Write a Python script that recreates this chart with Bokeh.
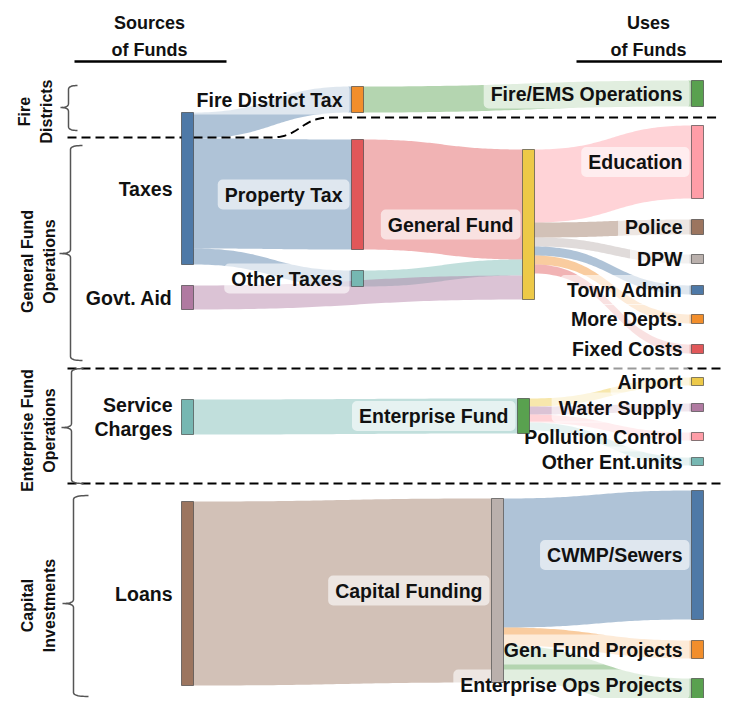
import numpy as np
from bokeh.plotting import figure
from bokeh.models import Range1d, ColumnDataSource
from bokeh.embed import file_html
from bokeh.resources import INLINE
from bokeh.core.properties import value

# ----------------------------- data -----------------------------
link_source = ["Taxes", "Taxes", "Taxes",
               "Fire District Tax", "Property Tax", "Other Taxes", "Govt. Aid",
               "General Fund", "General Fund", "General Fund", "General Fund", "General Fund", "General Fund",
               "Service Charges", "Enterprise Fund", "Enterprise Fund", "Enterprise Fund", "Enterprise Fund",
               "Loans", "Capital Funding", "Capital Funding", "Capital Funding"]
link_target = ["Fire District Tax", "Property Tax", "Other Taxes",
               "Fire/EMS Operations", "General Fund", "General Fund", "General Fund",
               "Education", "Police", "DPW", "Town Admin", "More Depts.", "Fixed Costs",
               "Enterprise Fund", "Airport", "Water Supply", "Pollution Control", "Other Ent.units",
               "Capital Funding", "CWMP/Sewers", "Gen. Fund Projects", "Enterprise Ops Projects"]
link_value = [26, 110, 16,
              26, 110, 16, 24,
              73, 15, 9, 9, 9, 9,
              35, 8, 8, 8, 8,
              184, 129, 18, 35]
# which end of the link gives its colour
link_color_end = ["src", "src", "src",
                  "tgt", "src", "src", "src",
                  "tgt", "tgt", "tgt", "tgt", "tgt", "tgt",
                  "src", "tgt", "tgt", "tgt", "tgt",
                  "src", "tgt", "tgt", "tgt"]

node_names = ["Taxes", "Govt. Aid", "Service Charges", "Loans",
              "Fire District Tax", "Property Tax", "Other Taxes",
              "General Fund", "Enterprise Fund", "Capital Funding",
              "Fire/EMS Operations", "Education", "Police", "DPW", "Town Admin",
              "More Depts.", "Fixed Costs", "Airport", "Water Supply",
              "Pollution Control", "Other Ent.units", "CWMP/Sewers",
              "Gen. Fund Projects", "Enterprise Ops Projects"]
node_labels = {"Service Charges": "Service\nCharges"}

group_names = ["Fire\nDistricts", "General Fund\nOperations",
               "Enterprise Fund\nOperations", "Capital\nInvestments"]
header_left = ["Sources", "of Funds"]
header_right = ["Uses", "of Funds"]

# ----------------------------- styles / layout -----------------------------
BLUE, ORANGE, RED, TEAL, GREEN = "#4e79a7", "#f28e2b", "#e15759", "#76b7b2", "#59a14f"
YELLOW, PURPLE, PINK, BROWN, GREY = "#edc948", "#b07aa1", "#ff9da7", "#9c755f", "#bab0ac"
node_color = {
    "Taxes": BLUE, "Govt. Aid": PURPLE, "Service Charges": TEAL, "Loans": BROWN,
    "Fire District Tax": ORANGE, "Property Tax": RED, "Other Taxes": TEAL,
    "General Fund": YELLOW, "Enterprise Fund": GREEN, "Capital Funding": GREY,
    "Fire/EMS Operations": GREEN, "Education": PINK, "Police": BROWN, "DPW": GREY,
    "Town Admin": BLUE, "More Depts.": ORANGE, "Fixed Costs": RED,
    "Airport": YELLOW, "Water Supply": PURPLE, "Pollution Control": PINK,
    "Other Ent.units": TEAL, "CWMP/Sewers": BLUE, "Gen. Fund Projects": ORANGE,
    "Enterprise Ops Projects": GREEN,
}
# node placement (left x, top y) in picture pixels
node_pos = {
    "Taxes": (181, 112), "Govt. Aid": (181, 285), "Service Charges": (181, 399), "Loans": (181, 501),
    "Fire District Tax": (351, 86), "Property Tax": (351, 139), "Other Taxes": (351, 270),
    "General Fund": (522, 149), "Enterprise Fund": (517, 398), "Capital Funding": (491, 498),
    "Fire/EMS Operations": (691, 80), "Education": (691, 125), "Police": (691, 219),
    "DPW": (691, 254), "Town Admin": (691, 285), "More Depts.": (691, 314),
    "Fixed Costs": (691, 344), "Airport": (691, 377), "Water Supply": (691, 403),
    "Pollution Control": (691, 432), "Other Ent.units": (691, 457),
    "CWMP/Sewers": (691, 490), "Gen. Fund Projects": (691, 640),
    "Enterprise Ops Projects": (691, 678),
}
NW = 12          # node width
SCALE = 1.0      # px per unit
W, H = 722, 698
# braces: (x_tip, x_line, x_end, y_top, y_bottom, y_mid)
braces = [(60, 68, 77, 85, 130, 107), (59, 70, 82, 145, 360, 253),
          (61, 71, 83, 368, 483, 427), (62, 73, 88, 495, 696, 603)]
group_label_xy = [(35, 111), (38, 261), (38, 430), (38, 605)]

FONT = value("Liberation Sans")

# ----------------------------- computation -----------------------------
node_in = {n: 0.0 for n in node_names}
node_out = {n: 0.0 for n in node_names}
for s, t, v in zip(link_source, link_target, link_value):
    node_out[s] += v
    node_in[t] += v
node_h = {n: max(node_in[n], node_out[n]) * SCALE for n in node_names}


def bez(a, b, c, d, t):
    return (1 - t) ** 3 * a + 3 * (1 - t) ** 2 * t * b + 3 * (1 - t) * t ** 2 * c + t ** 3 * d


tt = np.linspace(0, 1, 60)
off_out = {n: 0.0 for n in node_names}
off_in = {n: 0.0 for n in node_names}
lxs, lys, lcol = [], [], []
for s, t, v, ce in zip(link_source, link_target, link_value, link_color_end):
    h = v * SCALE
    x0 = node_pos[s][0] + NW
    x1 = node_pos[t][0]
    xm = (x0 + x1) / 2
    ys = node_pos[s][1] + off_out[s]
    yt = node_pos[t][1] + off_in[t]
    off_out[s] += h
    off_in[t] += h
    bx = bez(x0, xm, xm, x1, tt)
    by = bez(ys, ys, yt, yt, tt)
    lxs.append(np.concatenate([bx, bx[::-1]]).tolist())
    lys.append(np.concatenate([by, (by + h)[::-1]]).tolist())
    lcol.append(node_color[s] if ce == "src" else node_color[t])

p = figure(width=W, height=H, x_range=Range1d(0, W), y_range=Range1d(H, 0),
           output_backend="svg", toolbar_location=None, min_border=0,
           x_axis_type=None, y_axis_type=None)
p.xgrid.visible = False
p.ygrid.visible = False
p.outline_line_color = None
p.background_fill_color = "white"
p.border_fill_color = "white"

# links
p.patches(xs=lxs, ys=lys, fill_color=lcol, fill_alpha=0.45, line_color=None)

# dashed separators
sx = np.concatenate([[67, 270], bez(270, 300, 300, 330, tt), [720]])
sy = np.concatenate([[137, 137], bez(137, 137, 117, 117, tt), [117]])
p.line(sx, sy, line_color="black", line_width=2, line_dash="9 5")
for ysep in (368, 483):
    p.line([67, 728], [ysep, ysep], line_color="black", line_width=2, line_dash="9 5")

# braces
r = 4
for (xt, xl, xe, y0, y1, ym) in braces:
    q = np.linspace(0, 1, 12)

    def quad(a, b, c):
        return (1 - q) ** 2 * a + 2 * (1 - q) * q * b + q ** 2 * c
    bxs = np.concatenate([quad(xe, xl, xl), [xl], quad(xl, xl, xt), quad(xt, xl, xl), [xl], quad(xl, xl, xe)])
    bys = np.concatenate([quad(y0, y0, y0 + r), [ym - r], quad(ym - r, ym, ym), quad(ym, ym, ym + r),
                          [y1 - r], quad(y1 - r, y1, y1)])
    p.line(bxs, bys, line_color="#555555", line_width=1.5)

# header underlines
p.line([74, 226], [61, 61], line_color="black", line_width=2.5)
p.line([576, 727], [61, 61], line_color="black", line_width=2.5)

# node labels (box right edge just left of the node, kept inside the frame)
lab = ColumnDataSource(dict(
    x=[node_pos[n][0] - 2 for n in node_names],
    y=[min(node_pos[n][1] + node_h[n] / 2, H - 14) for n in node_names],
    text=[node_labels.get(n, n) for n in node_names],
))
p.text(x="x", y="y", text="text", source=lab, text_align="right", text_baseline="middle",
       text_font=FONT, text_font_style="bold", text_font_size="19.5px", text_color="#111111",
       text_line_height=1.1,
       background_fill_color="white", background_fill_alpha=0.6, border_radius=5, padding=(7, 4))

# nodes
p.quad(left=[node_pos[n][0] for n in node_names],
       right=[node_pos[n][0] + NW for n in node_names],
       top=[node_pos[n][1] for n in node_names],
       bottom=[node_pos[n][1] + node_h[n] for n in node_names],
       fill_color=[node_color[n] for n in node_names], fill_alpha=1.0,
       line_color="#333333", line_alpha=0.6, line_width=1)

# group labels (rotated)
p.text(x=[g[0] for g in group_label_xy], y=[g[1] for g in group_label_xy], text=group_names,
       angle=np.pi / 2, text_align="center", text_baseline="middle", text_font=FONT,
       text_font_style="bold", text_font_size="16px", text_color="#111111", text_line_height=1.3)

# headers
p.text(x=[149, 149, 648, 648], y=[22, 49, 22, 49], text=header_left + header_right,
       text_align="center", text_baseline="middle", text_font=FONT, text_font_style="bold",
       text_font_size="18px", text_color="#111111")

open("out.html", "w").write(file_html(p, INLINE))
